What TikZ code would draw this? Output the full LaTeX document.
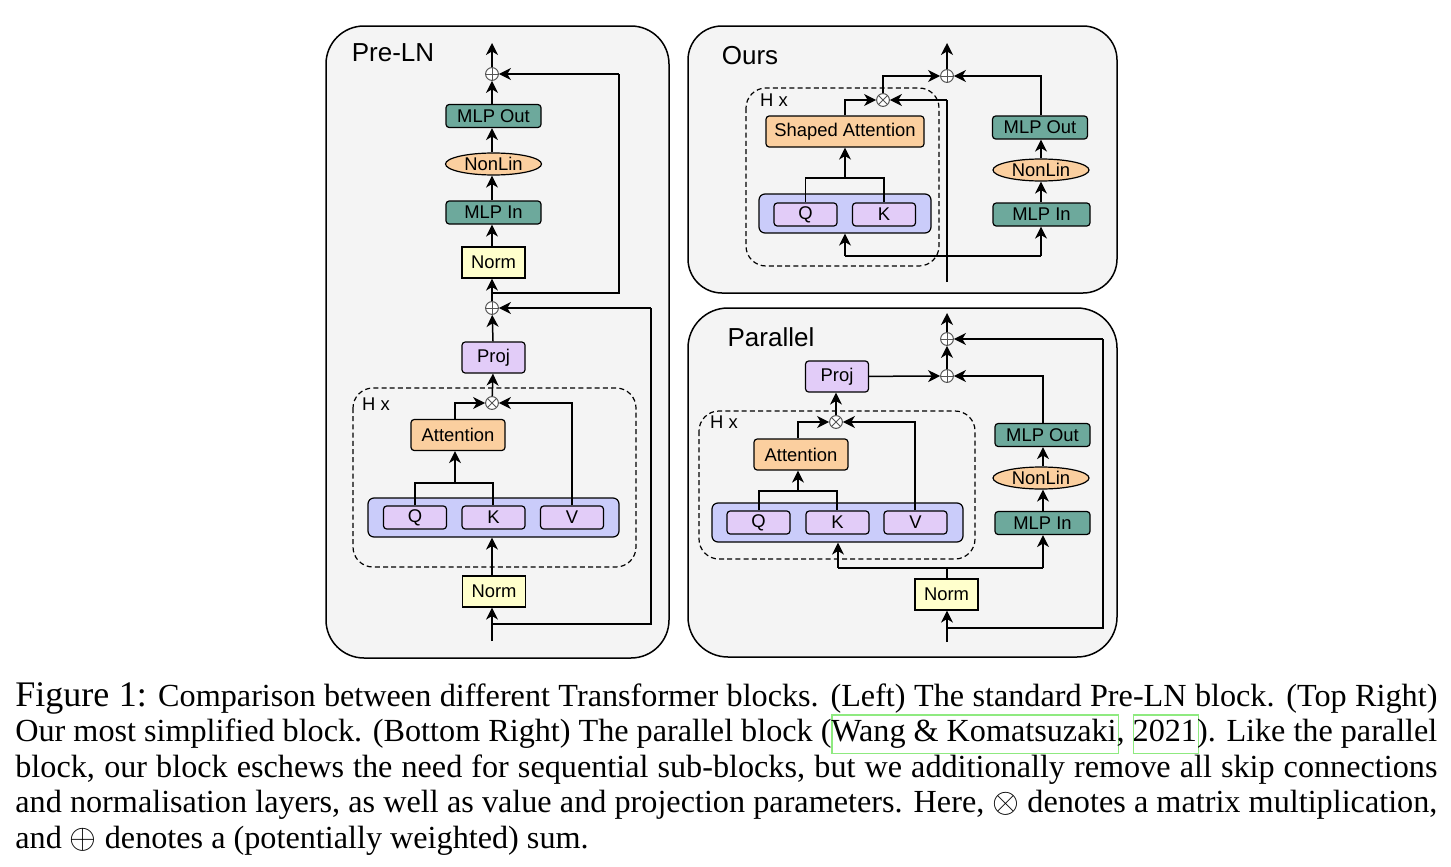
\documentclass[tikz,border=0pt]{standalone}
\usepackage{fontspec}
\setmainfont{Liberation Serif}
\newfontfamily\diagfont{Liberation Sans}
\usetikzlibrary{arrows.meta,shapes.geometric}
\definecolor{panelbg}{HTML}{F4F4F4}
\definecolor{mlpteal}{HTML}{6DA99C}
\definecolor{peach}{HTML}{FBCF9F}
\definecolor{normyel}{HTML}{FFFFCC}
\definecolor{lav}{HTML}{E2CCF8}
\definecolor{qkvblue}{HTML}{CACCFA}
\definecolor{opgray}{HTML}{555555}
\definecolor{citegreen}{HTML}{8FEA80}
\newcommand\citebx[1]{\leavevmode\rlap{\smash{\textcolor{citegreen}{\setlength\fboxsep{0pt}\setlength\fboxrule{0.6pt}\fbox{\rule[-5.5pt]{0pt}{18.5pt}\phantom{#1}}}}}#1}
\tikzset{
  every node/.style={font=\diagfont\fontsize{9.2pt}{11pt}\selectfont},
  panel/.style={draw=black, line width=0.75pt, fill=panelbg, rounded corners=19pt},
  hbox/.style={draw=black, dash pattern=on 2.5pt off 1.6pt, line width=0.6pt, rounded corners=10pt},
  blk/.style={draw=black, line width=0.6pt, rounded corners=1.6pt, minimum width=#1, minimum height=11.5pt, inner sep=0pt},
  blk/.default=47.5pt,
  mlp/.style={blk=#1, fill=mlpteal},
  mlp/.default=47.5pt,
  att/.style={blk=#1, fill=peach, minimum height=15.5pt},
  att/.default=47pt,
  lavb/.style={blk=#1, fill=lav, minimum height=15.5pt},
  lavb/.default=31.5pt,
  qk/.style={blk=31.5pt, fill=lav, minimum height=11.5pt},
  outer/.style={draw=black, line width=0.6pt, rounded corners=3pt, fill=qkvblue, minimum height=19.5pt, inner sep=0pt},
  normb/.style={draw=black, line width=0.6pt, fill=normyel, minimum width=31.5pt, minimum height=15.5pt, inner sep=0pt},
  nonlin/.style={draw=black, line width=0.6pt, fill=peach, ellipse, minimum width=48pt, minimum height=11pt, inner sep=0pt},
  opc/.style={circle, draw=opgray, line width=0.5pt, fill=white, minimum size=6.4pt, inner sep=0pt, path picture={
      \draw[opgray, line width=0.5pt] (path picture bounding box.north) -- (path picture bounding box.south)
        (path picture bounding box.west) -- (path picture bounding box.east);}},
  opx/.style={circle, draw=opgray, line width=0.5pt, fill=white, minimum size=6.4pt, inner sep=0pt, path picture={
      \draw[opgray, line width=0.5pt] (path picture bounding box.north west) -- (path picture bounding box.south east)
        (path picture bounding box.south west) -- (path picture bounding box.north east);}},
  ttl/.style={font=\diagfont\fontsize{13pt}{15pt}\selectfont, inner sep=0pt},
  hx/.style={inner sep=0pt},
  ar/.style={draw=black, line width=0.75pt, -{Stealth[length=6pt, width=6pt, inset=1.8pt]}},
  ln/.style={draw=black, line width=0.75pt},
}
\begin{document}
\begin{tikzpicture}[x=0.5pt, y=-0.5pt]
\useasboundingbox (0,0) rectangle (1451,867);
\fill[white] (0,0) rectangle (1451,867);

%% ================= Pre-LN =================
\draw[panel] (326,26) rectangle (669,658);
\node[ttl] (tpre) at (393,53) {Pre-LN};
\draw[hbox] (353,388) rectangle (636,567);
\node[hx] (hxa) at (376,404) {H x};

\node[opc] (pp1) at (492,74) {};
\node[mlp] (pmo) at (493.5,116) {MLP Out};
\node[nonlin] (pnl) at (493.5,164) {NonLin};
\node[mlp] (pmi) at (493.5,212.5) {MLP In};
\node[normb] (pn2) at (493.5,262.5) {Norm};
\node[opc] (pp2) at (492,308) {};
\node[lavb] (ppr) at (493.5,357.5) {Proj};
\node[opx] (pox) at (492,403) {};
\node[att] (pat) at (458,435) {Attention};
\node[outer, minimum width=125.5pt] (pqkv) at (493.5,517.5) {};
\node[qk] (pq) at (415,517.5) {Q};
\node[qk] (pk) at (493.5,517.5) {K};
\node[qk] (pv) at (572,517.5) {V};
\node[normb] (pn1) at (494,591.5) {Norm};
\coordinate (pin) at (492,641);
\coordinate (pout) at (492,43);
\coordinate (pj1) at (492,624);
\coordinate (pj2) at (492,293);

\draw[ar] (pin) -- (pn1.south -| pin);
\draw[ar] (pn1.north -| pin) -- (pqkv.south -| pin);
\draw[ln] (pj1) -| (651,308) coordinate (pc1);
\draw[ar] (pc1) -- (pp2);
\draw[ln] (pq.north) |- (493,483) coordinate (pqkj) -- (pk.north -| pqkj);
\draw[ar] (455,483) -- (pat.south -| 455,0);
\draw[ln] (pat.north -| 455,0) |- (470,403);
\draw[ar] (455,403) -- (pox);
\draw[ln] (pv.north) |- (510,403);
\draw[ar] (572,403) -- (pox);
\draw[ar] (pox) -- (ppr);
\draw[ar] (ppr) -- (pp2);
\draw[ar] (pp2) -- (pn2.south -| pp2);
\draw[ln] (pj2) -| (619,74) coordinate (pc2);
\draw[ar] (pc2) -- (pp1);
\draw[ar] (pn2.north -| pp1) -- (pmi.south -| pp1);
\draw[ar] (pmi.north -| pp1) -- (pnl.south -| pp1);
\draw[ar] (pnl.north -| pp1) -- (pmo.south -| pp1);
\draw[ar] (pmo.north -| pp1) -- (pp1);
\draw[ar] (pp1) -- (pout);

%% ================= Ours =================
\draw[panel, rounded corners=17pt] (688,26) rectangle (1117,293);
\node[ttl] (tours) at (750,56) {Ours};
\draw[hbox] (746,88) rectangle (939,266);
\node[hx] (hxb) at (774,100) {H x};

\node[opc] (op1) at (947,76) {};
\node[opx] (oox) at (883,100) {};
\node[att=79pt] (oat) at (845,131.5) {Shaped Attention};
\node[outer, minimum width=86pt] (oqk) at (845,213.5) {};
\node[qk] (oq) at (805.5,214.5) {Q};
\node[qk] (ok) at (884,214.5) {K};
\node[mlp] (omo) at (1040,127.5) {MLP Out};
\node[nonlin] (onl) at (1041,170) {NonLin};
\node[mlp=48.5pt] (omi) at (1041.5,214.5) {MLP In};
\coordinate (oin) at (947,282);
\coordinate (oout) at (947,43);

\draw[ln] (oin) -- (947,100) coordinate (oc1);
\draw[ar] (oc1) -- (oox);
\draw[ln] (845,256) coordinate (oj1) -- (1041,256) coordinate (oj2);
\draw[ar] (oj1) -- (oqk.south -| oj1);
\draw[ar] (oj2) -- (omi.south -| oj2);
\draw[ln] (oq.north) |- (884,178) coordinate (oqkj) -- (ok.north);
\draw[ar] (845,178) -- (oat.south);
\draw[ln] (oat.north) |- (860,100);
\draw[ar] (845,100) -- (oox);
\draw[ln] (oox.north) |- (920,76);
\draw[ar] (883,76) -- (op1);
\draw[ar] (omi.north -| 1041,0) -- (onl.south -| 1041,0);
\draw[ar] (onl.north -| 1041,0) -- (omo.south -| 1041,0);
\draw[ln] (omo.north -| 1041,0) |- (970,76);
\draw[ar] (1041,76) -- (op1);
\draw[ar] (op1) -- (oout);

%% ================= Parallel =================
\draw[panel, rounded corners=20pt] (688,308) rectangle (1117,657);
\node[ttl] (tpar) at (771,337) {Parallel};
\draw[hbox] (699,411) rectangle (975,559);
\node[hx] (hxc) at (724,422) {H x};

\node[opc] (qp1) at (947,339) {};
\node[opc] (qp2) at (947,376) {};
\node[lavb] (qpr) at (837,376.5) {Proj};
\node[opx] (qox) at (836,422) {};
\node[att] (qat) at (801,454.5) {Attention};
\node[outer, minimum width=125.5pt] (qqkv) at (837.5,522.5) {};
\node[qk] (qq) at (758.5,522.5) {Q};
\node[qk] (qk) at (837.5,522.5) {K};
\node[qk] (qv) at (915.5,522.5) {V};
\node[mlp] (qmo) at (1042.5,435) {MLP Out};
\node[nonlin] (qnl) at (1041,478) {NonLin};
\node[mlp] (qmi) at (1042.5,523) {MLP In};
\node[normb] (qn) at (946.5,594.5) {Norm};
\coordinate (qin) at (947,642);
\coordinate (qout) at (947,313);

\draw[ar] (qin) -- (qn.south -| qin);
\draw[ln] (947,628) coordinate (qj1) -| (1103,339) coordinate (qc1);
\draw[ar] (qc1) -- (qp1);
\draw[ln] (qn.north -| qin) -- (947,568);
\draw[ln] (838,568) coordinate (qj2) -- (1043,568) coordinate (qj3);
\draw[ar] (qj2) -- (qqkv.south -| qj2);
\draw[ar] (qj3) -- (qmi.south -| qj3);
\draw[ln] (qq.north -| 759,0) |- (837,491) coordinate (qqkj) -- (qk.north -| qqkj);
\draw[ar] (798,491) -- (qat.south -| 798,0);
\draw[ln] (qat.north -| 798,0) |- (815,422);
\draw[ar] (798,422) -- (qox);
\draw[ln] (qv.north -| 915,0) |- (860,422);
\draw[ar] (915,422) -- (qox);
\draw[ar] (qox) -- (qpr.south -| qox);
\draw[ar] (qpr) -- (qp2);
\draw[ar] (qmi.north -| 1043,0) -- (qnl.south -| 1043,0);
\draw[ar] (qnl.north -| 1043,0) -- (qmo.south -| 1043,0);
\draw[ln] (qmo.north -| 1043,0) |- (980,376);
\draw[ar] (1043,376) -- (qp2);
\draw[ar] (qp2) -- (qp1);
\draw[ar] (qp1) -- (qout);

%% ================= Caption =================
\begin{scope}[every node/.style={inner sep=0pt, anchor=base west, font=\fontsize{16.1pt}{17.7pt}\selectfont}]
\node (c1) at (15,706) {\hbox to 711pt{{\fontsize{18pt}{18pt}\selectfont Figure 1:} Comparison between different Transformer blocks. (Left) The standard Pre-LN block. (Top Right)}};
\node (c2) at (15,741.5) {\hbox to 711pt{Our most simplified block. (Bottom Right) The parallel block (\citebx{Wang \& Komatsuzaki}, \citebx{2021}). Like the parallel}};
\node (c3) at (15,777) {\hbox to 711pt{block, our block eschews the need for sequential sub-blocks, but we additionally remove all skip connections}};
\node (c4) at (15,812.5) {\hbox to 711pt{and normalisation layers, as well as value and projection parameters. Here, $\otimes$ denotes a matrix multiplication,}};
\node (c5) at (15,848) {and $\oplus$ denotes a (potentially weighted) sum.};
\end{scope}
\end{tikzpicture}
\end{document}
